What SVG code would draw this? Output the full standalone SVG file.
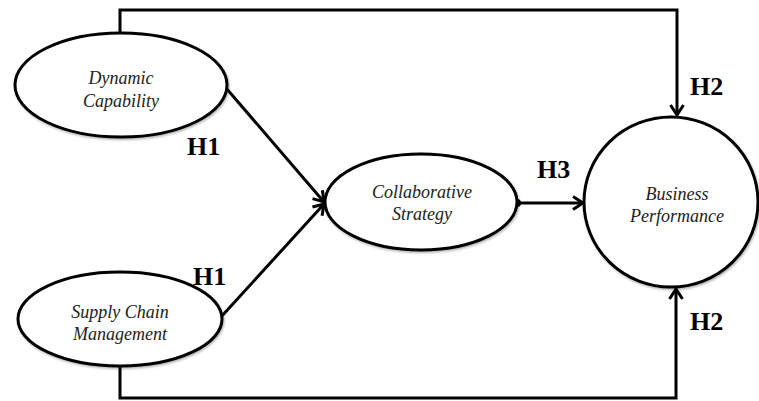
<svg xmlns="http://www.w3.org/2000/svg" width="759" height="401" viewBox="0 0 759 401">
  <style>
    .node { fill: #ffffff; stroke: #000000; stroke-width: 3; }
    .lbl { font-family: "Liberation Serif", "Times New Roman", serif; font-style: italic; font-size: 18px; fill: #222222; text-anchor: middle; }
    .hyp { font-family: "Liberation Serif", "Times New Roman", serif; font-weight: bold; font-size: 26px; fill: #000000; }
    .conn { fill: none; stroke: #000000; stroke-width: 3; }
  </style>
  <defs>
    <marker id="arrow" viewBox="0 0 14 16" refX="12" refY="8" markerWidth="14" markerHeight="16" markerUnits="userSpaceOnUse" orient="auto">
      <path d="M2,1.5 L12,8 L2,14.5" fill="none" stroke="#000000" stroke-width="3" stroke-linejoin="miter"/>
    </marker>
    <filter id="shadow" x="-20%" y="-20%" width="140%" height="140%">
      <feDropShadow dx="1" dy="1.5" stdDeviation="1.2" flood-color="#000000" flood-opacity="0.3"/>
    </filter>
  </defs>
  <rect width="759" height="401" fill="#ffffff"/>

  <g id="connectors">
    <path class="conn" d="M120,33 V10 H677 V115" marker-end="url(#arrow)"/>
    <path class="conn" d="M120,367 V398 H676 V289" marker-end="url(#arrow)"/>
    <line class="conn" x1="226" y1="88" x2="324" y2="202" marker-end="url(#arrow)"/>
    <line class="conn" x1="221" y1="317" x2="324" y2="204" marker-end="url(#arrow)"/>
    <line class="conn" x1="518" y1="203" x2="583" y2="203" marker-end="url(#arrow)"/>
    <circle cx="517" cy="203" r="4" fill="#000000"/>
  </g>

  <g id="dynamic-capability">
    <ellipse class="node" cx="121" cy="85" rx="106" ry="52" filter="url(#shadow)"/>
    <text class="lbl" x="121" y="84">Dynamic</text>
    <text class="lbl" x="121" y="107">Capability</text>
  </g>

  <g id="supply-chain-management">
    <ellipse class="node" cx="120" cy="319" rx="102" ry="47" filter="url(#shadow)"/>
    <text class="lbl" x="120" y="318">Supply Chain</text>
    <text class="lbl" x="120" y="340">Management</text>
  </g>

  <g id="collaborative-strategy">
    <ellipse class="node" cx="421" cy="202" rx="96" ry="48" filter="url(#shadow)"/>
    <text class="lbl" x="422" y="198">Collaborative</text>
    <text class="lbl" x="422" y="220">Strategy</text>
  </g>

  <g id="business-performance">
    <ellipse class="node" cx="671" cy="202" rx="87" ry="85" filter="url(#shadow)"/>
    <text class="lbl" x="677" y="200">Business</text>
    <text class="lbl" x="677" y="222">Performance</text>
  </g>

  <g id="hypothesis-labels">
    <text class="hyp" x="187" y="155">H1</text>
    <text class="hyp" x="193" y="285">H1</text>
    <text class="hyp" x="537" y="178">H3</text>
    <text class="hyp" x="690" y="95">H2</text>
    <text class="hyp" x="690" y="330">H2</text>
  </g>
</svg>
